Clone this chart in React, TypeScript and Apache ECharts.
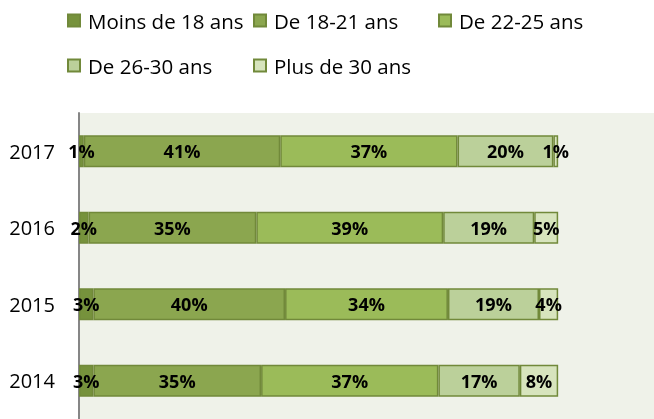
import React, { useEffect, useRef } from "react";
import * as echarts from "echarts";

const years = ["2014", "2015", "2016", "2017"];
const seriesNames = ["Moins de 18 ans", "De 18-21 ans", "De 22-25 ans", "De 26-30 ans", "Plus de 30 ans"];
const moins18 = [3, 3, 2, 1];
const de18_21 = [35, 40, 35, 41];
const de22_25 = [37, 34, 39, 37];
const de26_30 = [17, 19, 19, 20];
const plus30 = [8, 4, 5, 1];
const colors = ["#76923C", "#8BA64F", "#9BBB59", "#BBD09A", "#D7E4BD"];

export default function App() {
  const ref = useRef<HTMLDivElement>(null);
  useEffect(() => {
    if (!ref.current) return;
    const chart = echarts.init(ref.current, null, { renderer: "svg" });
    const values = [moins18, de18_21, de22_25, de26_30, plus30];
    const font = "'Open Sans', sans-serif";
    const legendCommon = {
      orient: "vertical" as const,
      top: 5,
      itemWidth: 12,
      itemHeight: 12,
      icon: "rect",
      itemGap: 24,
      textStyle: { fontFamily: font, fontSize: 20.5, lineHeight: 20, color: "#000", padding: [0, 0, 0, 3] },
    };
    chart.setOption({
      animation: false,
      legend: [
        { ...legendCommon, left: 62, data: [seriesNames[0], seriesNames[3]] },
        { ...legendCommon, left: 248, data: [seriesNames[1], seriesNames[4]] },
        { ...legendCommon, left: 433, data: [seriesNames[2]] },
      ],
      grid: {
        left: 79,
        right: 0,
        top: 113,
        bottom: 0,
        show: true,
        backgroundColor: "#EFF2E9",
        borderWidth: 0,
      },
      xAxis: { type: "value", min: 0, max: 120, show: false },
      yAxis: {
        type: "category",
        data: years,
        axisLine: { show: true, lineStyle: { color: "#868686", width: 2 } },
        axisTick: { show: false },
        axisLabel: { fontFamily: font, fontSize: 20, color: "#000", margin: 24 },
      },
      series: seriesNames.map((name, i) => ({
        name,
        type: "bar",
        stack: "total",
        barWidth: 32,
        data: values[i],
        itemStyle: { color: colors[i], borderColor: "#71893A", borderWidth: 1.5 },
        label: {
          show: true,
          position: "inside",
          formatter: "{c}%",
          fontFamily: font,
          fontWeight: "bold",
          fontSize: 18,
          color: "#000",
        },
      })),
    });
    return () => chart.dispose();
  }, []);
  return <div ref={ref} style={{ position: "fixed", left: 0, top: 0, width: 654, height: 419 }} />;
}
